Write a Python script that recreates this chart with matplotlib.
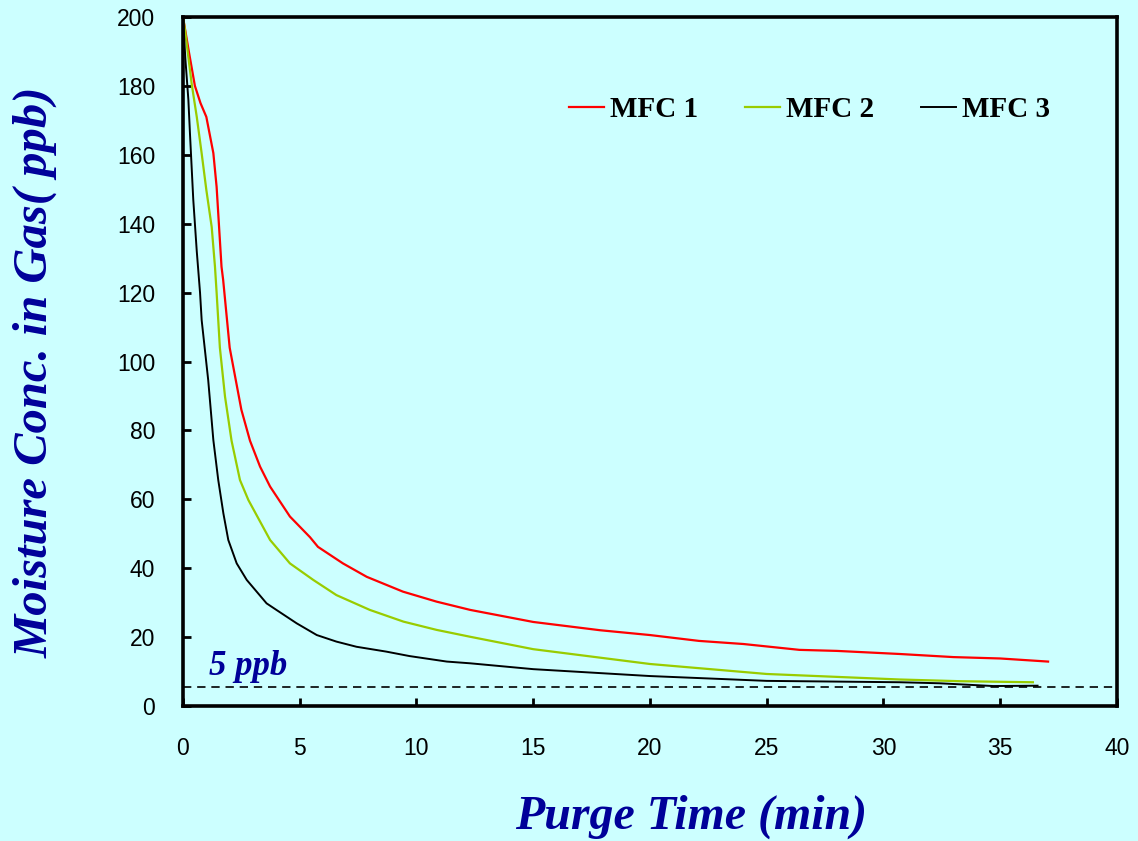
import matplotlib
matplotlib.use("Agg")
import matplotlib.pyplot as plt

# Data
t1 = [0, 0.25, 0.51, 0.75, 1.0, 1.3, 1.44, 1.65, 1.72, 2.0, 2.5, 2.87, 3.3, 3.73, 4.58, 5.44, 5.78,
      6.85, 7.87, 9.42, 10.86, 12.3, 15, 17.86, 20, 22.1, 24, 26.4, 28, 30.7, 33, 35, 37.05]
v1 = [200, 190, 180, 175, 171, 160.5, 150.7, 127.5, 123.7, 104, 86, 77, 69.5, 63.7, 55, 49, 46.2,
      41.4, 37.5, 33.2, 30.3, 27.9, 24.4, 22, 20.6, 18.9, 18, 16.3, 16, 15.1, 14.2, 13.8, 12.9]

t2 = [0, 0.09, 0.37, 0.59, 0.8, 1.0, 1.23, 1.37, 1.44, 1.58, 1.8, 2.08, 2.44, 2.8, 3.73, 4.58, 5.58,
      6.57, 8.0, 9.44, 10.86, 12.3, 15, 20, 25, 30.7, 33.3, 36.4]
v2 = [200, 196, 180.7, 171, 160.4, 149.8, 139, 127.5, 120, 104, 89.8, 77, 65.6, 59.8, 48.2, 41.4, 36.6,
      32.2, 27.9, 24.5, 22.1, 20.1, 16.5, 12.2, 9.3, 7.7, 7.2, 6.9]

t3 = [0, 0.1, 0.23, 0.3, 0.44, 0.59, 0.73, 0.8, 1.08, 1.3, 1.51, 1.73, 1.94, 2.3, 2.73, 3.58, 4.0,
      4.87, 5.73, 6.57, 7.43, 8.7, 9.7, 11.3, 12.3, 15, 20, 25, 30.7, 32.4, 34.7, 36.6]
v3 = [200, 188, 176, 166, 147, 132, 120, 112, 94.6, 77.2, 65.6, 55.9, 48.2, 41.4, 36.6, 29.8, 27.9,
      24.0, 20.6, 18.7, 17.2, 15.8, 14.5, 12.9, 12.4, 10.7, 8.7, 7.3, 6.9, 6.6, 5.8, 5.9]

series_names = ["MFC 1", "MFC 2", "MFC 3"]
limit_value = 5.5
limit_label = "5 ppb"
xticks = [0, 5, 10, 15, 20, 25, 30, 35, 40]
yticks = [0, 20, 40, 60, 80, 100, 120, 140, 160, 180, 200]

bg = "#CCFFFF"
navy = "#000099"

fig = plt.figure(figsize=(11.38, 8.41), dpi=100, facecolor=bg)
ax = fig.add_axes([0.1608, 0.1605, 0.8207, 0.8193], facecolor=bg)

ax.plot(t1, v1, color="#FF0000", lw=1.6, label=series_names[0])
ax.plot(t2, v2, color="#99CC00", lw=1.6, label=series_names[1])
ax.plot(t3, v3, color="#000000", lw=1.4, label=series_names[2])
ax.axhline(limit_value, color="black", lw=1.2, ls=(0, (5, 3.5)))

ax.text(1.1, 9.0, limit_label, color=navy, fontsize=25, fontweight="bold", fontstyle="italic",
        family="Liberation Serif", va="baseline")

ax.set_xlim(0, 40)
ax.set_ylim(0, 200)
ax.set_xticks(xticks)
ax.set_yticks(yticks)
ax.tick_params(direction="in", length=6, width=2, labelsize=16.5, color="black")
ax.tick_params(axis="x", pad=22)
ax.tick_params(axis="y", pad=20)
for lab in ax.get_xticklabels() + ax.get_yticklabels():
    lab.set_family("Liberation Sans")
for s in ax.spines.values():
    s.set_linewidth(2.6)

fig.text(691 / 1138, 1 - 829 / 841, "Purge Time (min)", color=navy, fontsize=34.5, fontweight="bold",
         fontstyle="italic", family="Liberation Serif", ha="center", va="baseline")
fig.text(35 / 1138, 1 - 372 / 841, "Moisture Conc. in Gas( ppb)", color=navy, fontsize=35,
         fontweight="bold", fontstyle="italic", family="Liberation Serif", rotation=90,
         ha="center", va="center")

leg = ax.legend(loc="center left", bbox_to_anchor=(0.4008, 0.866), ncol=3, frameon=False,
                borderaxespad=0, handlelength=1.2, handletextpad=0.2, columnspacing=1.62,
                prop={"family": "Liberation Serif", "weight": "bold", "size": 21})

fig.savefig("out.png", dpi=100, facecolor=bg)
